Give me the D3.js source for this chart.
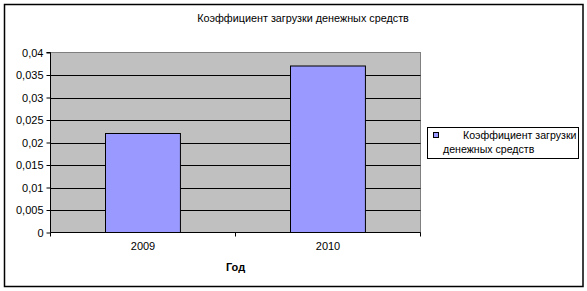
<!DOCTYPE html>
<html><head><meta charset="utf-8">
<script src="https://cdn.jsdelivr.net/npm/d3@7"></script>
<style>body{margin:0;background:#fff}svg{display:block}text{font-family:"Liberation Sans",Arial,sans-serif}</style>
</head><body>
<svg id="c" width="587" height="291"></svg>
<script>
const categories = ["2009", "2010"];
const values = [0.022, 0.037];
const yTicks = [0, 0.005, 0.01, 0.015, 0.02, 0.025, 0.03, 0.035, 0.04];
const yTickLabels = ["0", "0,005", "0,01", "0,015", "0,02", "0,025", "0,03", "0,035", "0,04"];
const title = "Коэффициент загрузки денежных средств";
const xTitle = "Год";
const legendLines = ["Коэффициент загрузки", "денежных средств"];

const svg = d3.select("#c");
const L = 50.5, R = 420.5, T = 52.5, B = 232.5;
const x = d3.scaleBand().domain(categories).range([L, R]);
const y = d3.scaleLinear().domain([0, 0.04]).range([B, T]);

// outer border
svg.append("rect").attr("x", 4.5).attr("y", 4.5).attr("width", 578.5).attr("height", 282)
  .attr("fill", "#fff").attr("stroke", "#000").attr("stroke-width", 1.5);

svg.append("text").attr("x", 303).attr("y", 22).attr("text-anchor", "middle")
  .attr("font-size", 10.8).text(title);

// plot area
svg.append("rect").attr("x", L).attr("y", T).attr("width", R - L).attr("height", B - T)
  .attr("fill", "#c0c0c0").attr("stroke", "#808080").attr("stroke-width", 1);

// gridlines
svg.append("g").selectAll("line").data(yTicks.slice(1, -1)).join("line")
  .attr("x1", L).attr("x2", R).attr("y1", d => Math.round(y(d)) + 0.5).attr("y2", d => Math.round(y(d)) + 0.5)
  .attr("stroke", "#000").attr("stroke-width", 1);

// bars
const bw = x.bandwidth() * 0.405;
svg.append("g").selectAll("rect").data(values).join("rect")
  .attr("x", (d, i) => Math.round(x(categories[i]) + x.bandwidth() / 2 - bw / 2) - 0.5)
  .attr("y", d => y(d))
  .attr("width", bw).attr("height", d => B - y(d))
  .attr("fill", "#9999ff").attr("stroke", "#000").attr("stroke-width", 1);

// y axis
const yAxis = d3.axisLeft(y).tickValues(yTicks).tickSize(4).tickPadding(3)
  .tickFormat((d, i) => yTickLabels[i]);
const ya = svg.append("g").attr("transform", `translate(${L},0)`).call(yAxis);
ya.select(".domain").attr("stroke", "#000").attr("d", `M-4,${T}H0V${B}`);
ya.selectAll(".tick line").attr("stroke", "#000");
ya.selectAll("text").attr("font-size", 11).attr("fill", "#000").attr("font-family", '"Liberation Sans",Arial,sans-serif');

// x axis
const xa = svg.append("g").attr("transform", `translate(0,${B})`)
  .call(d3.axisBottom(x).tickSize(0).tickPadding(10));
xa.select(".domain").attr("stroke", "#000").attr("d", `M${L},0H${R}`);
xa.selectAll("text").attr("font-size", 11).attr("fill", "#000").attr("font-family", '"Liberation Sans",Arial,sans-serif');
const xt = [L, (L + R) / 2, R];
svg.append("g").selectAll("line").data(xt).join("line")
  .attr("x1", d => d).attr("x2", d => d).attr("y1", B).attr("y2", B + 4).attr("stroke", "#000");

svg.append("text").attr("x", (L + R) / 2).attr("y", 271).attr("text-anchor", "middle")
  .attr("font-size", 11).attr("font-weight", "bold").text(xTitle);

// legend
svg.append("rect").attr("x", 427.5).attr("y", 127.5).attr("width", 151).attr("height", 31)
  .attr("fill", "#fff").attr("stroke", "#000").attr("stroke-width", 1);
svg.append("rect").attr("x", 433.5).attr("y", 132.5).attr("width", 5).attr("height", 5)
  .attr("fill", "#9999ff").attr("stroke", "#000").attr("stroke-width", 1);
svg.append("text").attr("x", 463).attr("y", 139).attr("font-size", 10.6).text(legendLines[0]);
svg.append("text").attr("x", 443).attr("y", 153).attr("font-size", 10.6).text(legendLines[1]);
</script>
</body></html>
